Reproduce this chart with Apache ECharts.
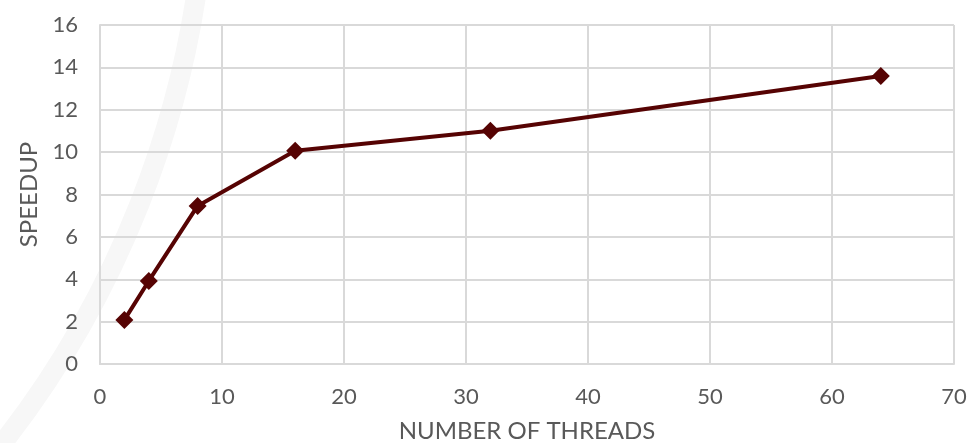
<!DOCTYPE html>
<html><head><meta charset="utf-8">
<script src="https://cdn.jsdelivr.net/npm/echarts@6/dist/echarts.min.js"></script>
<style>html,body{margin:0;padding:0;background:#fff}#c{width:969px;height:443px}</style>
</head><body><div id="c"></div>
<script>
const threads = [2, 4, 8, 16, 32, 64];
const speedup = [2.08, 3.92, 7.46, 10.07, 11.01, 13.59];
const xTicks = [0, 10, 20, 30, 40, 50, 60, 70];
const yTicks = [0, 2, 4, 6, 8, 10, 12, 14, 16];
const chart = echarts.init(document.getElementById('c'));
const font = 'Lato, "Open Sans", sans-serif';
chart.setOption({
  animation: false,
  graphic: [{
    type: 'circle', z: -10, silent: true,
    shape: {cx: -755, cy: -150, r: 962},
    style: {fill: 'none', stroke: '#f7f7f7', lineWidth: 20}
  }],
  grid: {left: 100, right: 15, top: 25, bottom: 79, outerBoundsMode: 'none', containLabel: false},
  xAxis: {
    type: 'value', min: xTicks[0], max: xTicks[xTicks.length-1], interval: 10,
    name: 'NUMBER OF THREADS', nameLocation: 'middle', nameGap: 55,
    nameTextStyle: {color: '#595959', fontSize: 24, fontFamily: font},
    axisLine: {show: true, lineStyle: {color: '#d9d9d9', width: 2}},
    axisTick: {show: false},
    axisLabel: {color: '#595959', fontSize: 22, fontFamily: font, margin: 22},
    splitLine: {show: true, lineStyle: {color: '#d9d9d9', width: 2}}
  },
  yAxis: {
    type: 'value', min: yTicks[0], max: yTicks[yTicks.length-1], interval: 2,
    name: 'SPEEDUP', nameLocation: 'middle', nameGap: 58,
    nameTextStyle: {color: '#595959', fontSize: 24, fontFamily: font},
    axisLine: {show: true, lineStyle: {color: '#d9d9d9', width: 2}},
    axisTick: {show: false},
    axisLabel: {color: '#595959', fontSize: 22, fontFamily: font, margin: 22},
    splitLine: {show: true, lineStyle: {color: '#d9d9d9', width: 2}}
  },
  series: [{
    type: 'line',
    data: threads.map((t, i) => [t, speedup[i]]),
    symbol: 'diamond', symbolSize: 18,
    lineStyle: {color: '#560303', width: 4},
    itemStyle: {color: '#560303'}
  }]
});
</script></body></html>
